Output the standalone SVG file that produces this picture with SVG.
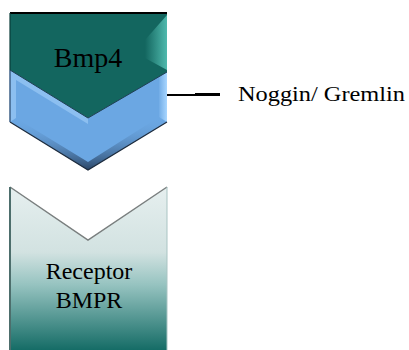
<svg xmlns="http://www.w3.org/2000/svg" width="409" height="350" viewBox="0 0 409 350">
<defs>
<style>
.lbl{font-family:"Liberation Serif","Times New Roman",serif;fill:#000}
</style>
<linearGradient id="recGrad" x1="0" y1="187" x2="0" y2="350" gradientUnits="userSpaceOnUse">
<stop offset="0" stop-color="#e6efef"/>
<stop offset="0.4" stop-color="#d2e2e1"/>
<stop offset="0.6" stop-color="#96c3c0"/>
<stop offset="1" stop-color="#156c66"/>
</linearGradient>
<linearGradient id="tealBevelR" x1="145" y1="0" x2="167" y2="0" gradientUnits="userSpaceOnUse">
<stop offset="0" stop-color="#13665f"/>
<stop offset="1" stop-color="#4fb9ad"/>
</linearGradient>
<linearGradient id="blueBevelR" x1="158" y1="0" x2="167" y2="0" gradientUnits="userSpaceOnUse">
<stop offset="0" stop-color="#6ba7e3"/>
<stop offset="1" stop-color="#a8d6ff"/>
</linearGradient>
<linearGradient id="blueBot" x1="0" y1="0" x2="0" y2="1">
<stop offset="0" stop-color="#6ba7e3" stop-opacity="0"/>
<stop offset="1" stop-color="#2a4566"/>
</linearGradient>
</defs>

<g id="bmp4">
<!-- blue chevron -->
<polygon points="10,70 88,118 167,70 167,122 88,170 10,122" fill="#6ba7e3"/>
<polygon points="10,70 88,118 88,124 16,80 16,118 10,122" fill="#8cbff0"/>
<polygon points="159,76 167,72 167,122 159,117" fill="url(#blueBevelR)"/>
<polygon points="10,122 16,118 88,162 159,117 167,122 88,170" fill="url(#blueBot)"/>
<polyline points="10,122 88,170 167,122" fill="none" stroke="#1d2b3c" stroke-width="1.2"/>
<line x1="10" y1="70" x2="10" y2="122" stroke="#3d5f86" stroke-width="1.5"/>
<!-- teal pentagon -->
<polygon points="10,13 167,13 167,72 88,118 10,70" fill="#13665f"/>
<polygon points="167,15 167,70 145,58 145,40" fill="url(#tealBevelR)"/>
<line x1="10" y1="13" x2="167" y2="13" stroke="#000" stroke-width="2"/>
<line x1="10" y1="13" x2="10" y2="70" stroke="#0a3d39" stroke-width="1.2"/>
<polyline points="10,70 88,118 167,72" fill="none" stroke="#1f3f55" stroke-width="1"/>
<text class="lbl" x="88" y="67" font-size="28" text-anchor="middle">Bmp4</text>
</g>

<g id="receptor">
<polygon points="10,187 88,240 167,187 167,350 10,350" fill="url(#recGrad)"/>
<polyline points="10,187 88,240 167,187" fill="none" stroke="#7a7f7f" stroke-width="1.5"/>
<line x1="10" y1="187" x2="10" y2="350" stroke="#4d6e6c" stroke-width="2"/>
<line x1="167" y1="187" x2="167" y2="350" stroke="#a9c4c3" stroke-width="1"/>
<text class="lbl" x="89" y="279" font-size="24" text-anchor="middle">Receptor</text>
<text class="lbl" x="89" y="308" font-size="24" text-anchor="middle">BMPR</text>
</g>

<g id="noggin">
<text class="lbl" x="238" y="101" font-size="21" textLength="167" lengthAdjust="spacingAndGlyphs">Noggin/ Gremlin</text>
</g>

<g id="connectors">
<line x1="167" y1="95" x2="196" y2="95" stroke="#000" stroke-width="2"/>
<line x1="195" y1="94.5" x2="220" y2="94.5" stroke="#000" stroke-width="3"/>
</g>
</svg>
